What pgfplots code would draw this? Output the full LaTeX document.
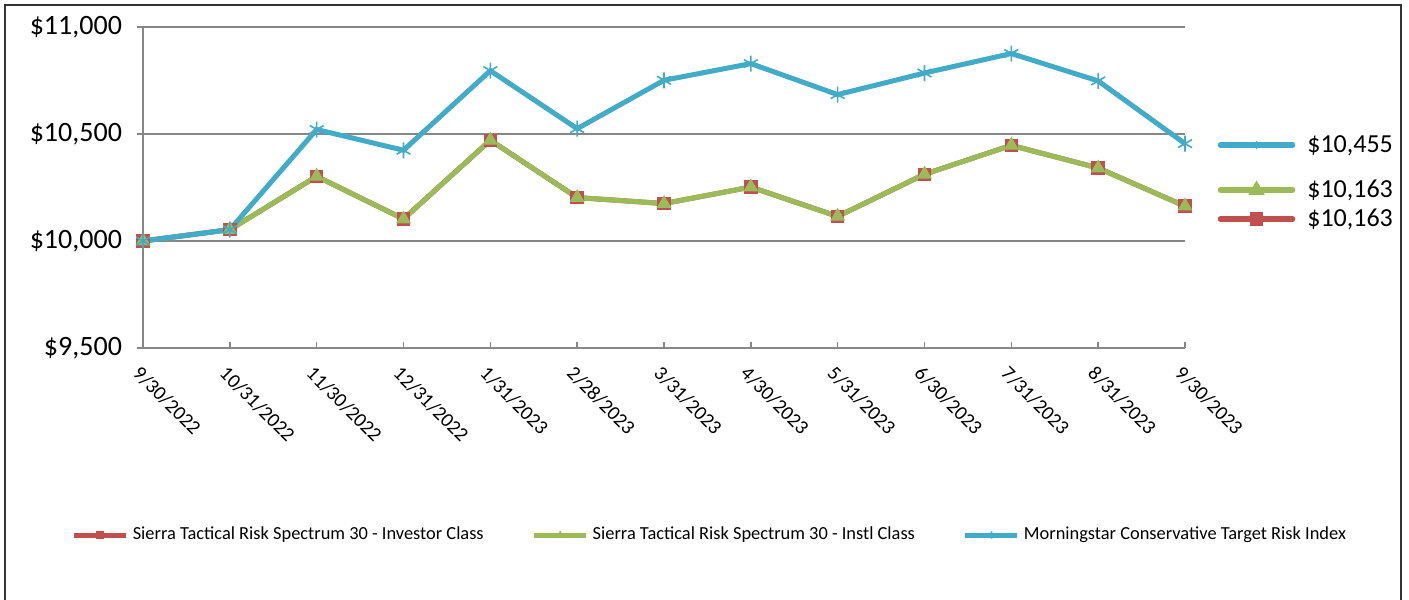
\documentclass[border=0pt]{standalone}
\usepackage{pgfplots}
\pgfplotsset{compat=1.18}
\usepackage{fontspec}
\setmainfont{Carlito}
\definecolor{cblue}{HTML}{41ABC8}
\definecolor{cred}{HTML}{C0504D}
\definecolor{cgreen}{HTML}{9BBB59}
\definecolor{cgrid}{HTML}{878787}
\pgfplotsset{
 rightkey/.style={
  legend style={at={(1.031,#1)},anchor=west,draw=none,fill=none,inner sep=0pt,
   font=\fontsize{13}{15}\selectfont,
   /tikz/every odd column/.append style={column sep=4pt}},
  legend image code/.code={
   \draw[##1,mark=none,line cap=round] (0pt,0pt) -- (36pt,0pt);
   \draw[##1,mark size=2pt] plot coordinates {(18pt,0pt)};}},
 overlay axis/.style={at={(71.5pt,126pt)},anchor=south west,scale only axis,
  width=521pt,height=160.5pt,hide axis,xmin=0,xmax=1,ymin=0,ymax=1},
}
\begin{document}
\begin{tikzpicture}
\useasboundingbox (0,0) rectangle (704.5pt,300pt);
\begin{axis}[
 at={(71.5pt,126pt)},anchor=south west,
 scale only axis,width=521pt,height=160.5pt,
 clip=false,
 xmin=0,xmax=12,ymin=9500,ymax=11000,
 scaled y ticks=false,
 axis lines*=left,
 axis line style={cgrid,line width=0.8pt},
 ymajorgrids,grid style={cgrid,line width=0.8pt},
 major tick length=3pt,
 xtick align=inside,ytick align=outside,
 tick style={cgrid,line width=0.8pt},
 ytick={9500,10000,10500,11000},
 yticklabels={{\$9,500},{\$10,000},{\$10,500},{\$11,000}},
 yticklabel style={font=\fontsize{14}{16}\selectfont,xshift=-4pt},
 xtick={0,...,12},
 xticklabels={9/30/2022,10/31/2022,11/30/2022,12/31/2022,1/31/2023,2/28/2023,3/31/2023,4/30/2023,5/31/2023,6/30/2023,7/31/2023,8/31/2023,9/30/2023},
 xticklabel style={font=\fontsize{10}{12}\selectfont,rotate=-45,anchor=north west,xshift=2pt,yshift=-3pt},
 legend style={at={(0.545,-0.5826)},anchor=center,draw=none,fill=none,
  legend columns=3,font=\fontsize{9.2}{11}\selectfont,
  /tikz/every even column/.append style={column sep=22pt}},
 legend image code/.code={
  \draw[#1,mark=none] (0pt,0pt) -- (26pt,0pt);
  \draw[#1,mark size=1.8pt] plot coordinates {(13pt,0pt)};},
]
\addplot[cred,line width=2.5pt,mark=square*,mark size=3.1pt,mark options={solid,line width=0.5pt,fill=cred}] coordinates {
 (0,10000) (1,10053) (2,10302) (3,10103) (4,10471) (5,10203) (6,10175)
 (7,10252) (8,10115) (9,10312) (10,10447) (11,10341) (12,10163)};
\addlegendentry{Sierra Tactical Risk Spectrum 30 - Investor Class}
\addplot[cgreen,line width=2.5pt,mark=triangle*,mark size=3.8pt,mark options={solid,line width=0.5pt,fill=cgreen}] coordinates {
 (0,10000) (1,10053) (2,10302) (3,10103) (4,10471) (5,10203) (6,10175)
 (7,10252) (8,10115) (9,10312) (10,10447) (11,10341) (12,10163)};
\addlegendentry{Sierra Tactical Risk Spectrum 30 - Instl Class}
\addplot[cblue,line width=2.5pt,mark=asterisk,mark size=4pt,mark options={solid,line width=0.8pt}] coordinates {
 (0,10000) (1,10053) (2,10521) (3,10424) (4,10796) (5,10525) (6,10751)
 (7,10829) (8,10684) (9,10785) (10,10876) (11,10748) (12,10455)};
\addlegendentry{Morningstar Conservative Target Risk Index}
\end{axis}
\begin{axis}[overlay axis,rightkey=0.632]
\addlegendimage{cblue,line width=2.8pt,mark=asterisk,mark options={solid,line width=0.6pt}}
\addlegendentry{\$10,455}
\end{axis}
\begin{axis}[overlay axis,rightkey=0.492]
\addlegendimage{cgreen,line width=2.8pt,mark=triangle*,mark options={solid,fill=cgreen}}
\addlegendentry{\$10,163}
\end{axis}
\begin{axis}[overlay axis,rightkey=0.402]
\addlegendimage{cred,line width=2.8pt,mark=square*,mark options={solid,fill=cred}}
\addlegendentry{\$10,163}
\end{axis}
\draw[black!80,line width=0.8pt] (2.5pt,0pt) -- (2.5pt,297.5pt) -- (700.5pt,297.5pt) -- (700.5pt,0pt);
\end{tikzpicture}
\end{document}
